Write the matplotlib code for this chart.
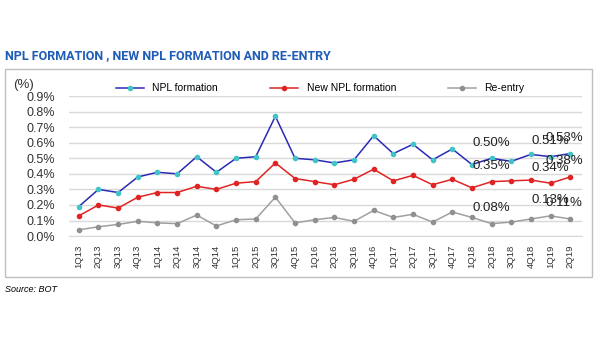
import matplotlib
matplotlib.use("Agg")
import matplotlib.pyplot as plt
from matplotlib.patches import Rectangle

plt.rcParams['font.family'] = ['Liberation Sans', 'DejaVu Sans']

# quarters and series (% of loans)
quarters = ["1Q13", "2Q13", "3Q13", "4Q13", "1Q14", "2Q14", "3Q14", "4Q14",
            "1Q15", "2Q15", "3Q15", "4Q15", "1Q16", "2Q16", "3Q16", "4Q16",
            "1Q17", "2Q17", "3Q17", "4Q17", "1Q18", "2Q18", "3Q18", "4Q18",
            "1Q19", "2Q19"]
npl_formation = [0.19, 0.30, 0.28, 0.38, 0.41, 0.40, 0.51, 0.41, 0.50, 0.51,
                 0.77, 0.50, 0.49, 0.47, 0.49, 0.645, 0.53, 0.59, 0.49, 0.56,
                 0.46, 0.50, 0.48, 0.525, 0.51, 0.53]
new_npl = [0.13, 0.20, 0.18, 0.25, 0.28, 0.28, 0.32, 0.30, 0.34, 0.35,
           0.47, 0.37, 0.35, 0.33, 0.365, 0.43, 0.355, 0.39, 0.33, 0.365,
           0.31, 0.35, 0.355, 0.36, 0.34, 0.38]
re_entry = [0.04, 0.06, 0.075, 0.095, 0.085, 0.08, 0.135, 0.065, 0.105, 0.11,
            0.25, 0.085, 0.105, 0.12, 0.095, 0.165, 0.12, 0.14, 0.09, 0.155,
            0.12, 0.08, 0.09, 0.11, 0.13, 0.11]
labelled = [21, 24, 25]  # quarters that carry a value label

fig = plt.figure(figsize=(6, 3.61), dpi=100)

# grey box around the chart
fig.patches.append(Rectangle((0.008, 0.233), 0.978, 0.576, transform=fig.transFigure,
                             fill=False, edgecolor='#bfbfbf', linewidth=1))

fig.text(0.008, 0.835, "NPL FORMATION , NEW NPL FORMATION AND RE-ENTRY",
         fontsize=9, fontweight='bold', color='#1f5cb8',
         family=['Roboto', 'Liberation Sans'])
fig.text(0.008, 0.19, "Source: BOT", fontsize=6.5, style='italic')

ax = fig.add_axes([0.115, 0.346, 0.855, 0.388])
x = range(len(quarters))

series = [
    (npl_formation, "NPL formation", '#2a2ab5', '#40c4c8'),
    (new_npl, "New NPL formation", '#e02424', '#e02424'),
    (re_entry, "Re-entry", '#a0a0a0', '#909090'),
]
for vals, name, lc, mc in series:
    ax.plot(x, vals, color=lc, linewidth=1.1, marker='o', markersize=3,
            markerfacecolor=mc, markeredgecolor=mc, label=name)
    for i in labelled:
        shift = -0.3 if i == len(quarters) - 1 else 0
        ax.text(i + shift, vals[i] + 0.1, f"{vals[i]:.2f}%", ha='center', va='center',
                fontsize=9.5, color='#222222')

ax.set_xlim(-0.5, 25.6)
ax.set_ylim(0, 0.9)
ax.set_yticks([i / 10 for i in range(10)])
ax.set_yticklabels([f"{i / 10:.1f}%" for i in range(10)], fontsize=9, color='#333333')
ax.set_xticks(list(x))
ax.set_xticklabels(quarters, rotation=90, fontsize=6.8, color='#333333')
ax.tick_params(length=0, pad=6)
ax.tick_params(axis='y', pad=10)
ax.grid(axis='y', color='#d9d9d9', linewidth=1)
ax.set_axisbelow(True)
for s in ['top', 'right', 'left']:
    ax.spines[s].set_visible(False)
ax.spines['bottom'].set_color('#d9d9d9')

ax.text(-0.109, 1.06, "(%)", transform=ax.transAxes, fontsize=9.5, color='#333333')
ax.legend(loc='lower center', bbox_to_anchor=(0.49, 0.99), ncol=3, frameon=False,
          fontsize=7.5, columnspacing=5, handlelength=2.7, borderaxespad=0)

fig.savefig("out.png", dpi=100)
